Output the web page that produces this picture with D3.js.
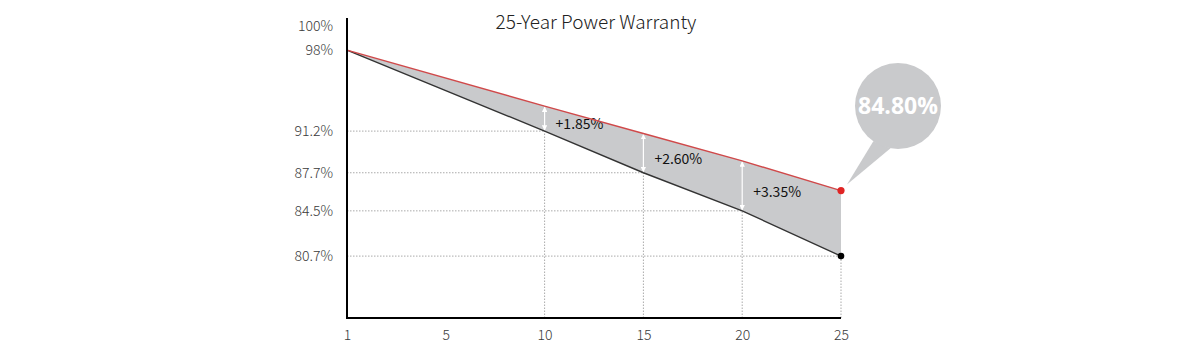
<!DOCTYPE html>
<html><head><meta charset="utf-8">
<script src="https://cdn.jsdelivr.net/npm/d3@7"></script>
<style>
html,body{margin:0;padding:0;background:#fff;}
svg{display:block;font-family:"Noto Sans CJK SC","Noto Sans",sans-serif;}
</style></head>
<body>
<svg id="chart" width="1200" height="353"></svg>
<script>
// ---- data ----
const title = "25-Year Power Warranty";
const xTicks = [1, 5, 10, 15, 20, 25];
const years = [1, 10, 15, 20, 25];
const standardValues = [98, 91.2, 87.7, 84.5, 80.7];   // black line
const warrantyValues = [98, 93.3, 91.0, 88.7, 86.2];   // red line (as drawn)
const yTickValues = [100, 98, 91.2, 87.7, 84.5, 80.7];
const yTickLabels = ["100%", "98%", "91.2%", "87.7%", "84.5%", "80.7%"];
const gapYears = [10, 15, 20];
const gapLabels = ["+1.85%", "+2.60%", "+3.35%"];
const finalLabel = "84.80%";

// ---- layout ----
const svg = d3.select("#chart");
const x = d3.scalePoint().domain(xTicks).range([347, 841]);
const y = d3.scaleLinear().domain([75.5, 100.7]).range([318, 18]);

const black = years.map((yr, i) => ({yr, v: standardValues[i]}));
const red = years.map((yr, i) => ({yr, v: warrantyValues[i], b: standardValues[i]}));

// grid lines (dotted) to the black line points
const gridPts = black.filter(d => d.yr !== 1);
const grid = svg.append("g").attr("stroke", "#aaa").attr("stroke-width", 1).attr("stroke-dasharray", "1.5,1.5");
grid.selectAll(".h").data(gridPts).join("line")
  .attr("x1", x(1)).attr("x2", d => x(d.yr)).attr("y1", d => y(d.v)).attr("y2", d => y(d.v));
grid.selectAll(".v").data(gridPts).join("line")
  .attr("x1", d => x(d.yr)).attr("x2", d => x(d.yr)).attr("y1", y.range()[0]).attr("y2", d => y(d.v));

// area between lines
svg.append("path").datum(red)
  .attr("fill", "#c9cacc")
  .attr("d", d3.area().x(d => x(d.yr)).y0(d => y(d.b)).y1(d => y(d.v)));

// white double arrows
const defs = svg.append("defs");
defs.append("marker").attr("id", "ah").attr("viewBox", "0 0 10 10").attr("refX", 9).attr("refY", 5)
  .attr("markerWidth", 4.5).attr("markerHeight", 4.5).attr("orient", "auto-start-reverse")
  .append("path").attr("d", "M0,0L10,5L0,10Z").attr("fill", "#fff");
const gaps = gapYears.map((yr, i) => ({yr, lab: gapLabels[i], top: warrantyValues[years.indexOf(yr)], bot: standardValues[years.indexOf(yr)]}));
svg.selectAll(".arr").data(gaps).join("line")
  .attr("x1", d => x(d.yr)).attr("x2", d => x(d.yr))
  .attr("y1", d => y(d.bot) - 1).attr("y2", d => y(d.top) + 1)
  .attr("stroke", "#fff").attr("stroke-width", 1.2)
  .attr("marker-start", "url(#ah)").attr("marker-end", "url(#ah)");
svg.selectAll(".gl").data(gaps).join("text")
  .attr("x", d => x(d.yr) + 11)
  .attr("y", d => (y(d.top) + y(d.bot)) / 2 + 6)
  .attr("dy", "0.35em")
  .attr("font-size", 14).attr("fill", "#111")
  .text(d => d.lab);

// lines
svg.append("path").datum(black).attr("fill", "none").attr("stroke", "#333").attr("stroke-width", 1.4)
  .attr("d", d3.line().x(d => x(d.yr)).y(d => y(d.v)));
svg.append("path").datum(red).attr("fill", "none").attr("stroke", "#d0494a").attr("stroke-width", 1.4)
  .attr("d", d3.line().x(d => x(d.yr)).y(d => y(d.v)));

// end dots
const last = years.length - 1;
svg.append("circle").attr("cx", x(years[last])).attr("cy", y(standardValues[last])).attr("r", 3.3).attr("fill", "#000");
svg.append("circle").attr("cx", x(years[last])).attr("cy", y(warrantyValues[last])).attr("r", 3.6).attr("fill", "#e02424");

// axes
svg.append("line").attr("x1", x(1)).attr("x2", x(1)).attr("y1", y.range()[1]).attr("y2", y.range()[0] + 1)
  .attr("stroke", "#000").attr("stroke-width", 2);
svg.append("line").attr("x1", x(1) - 1).attr("x2", x(25)).attr("y1", y.range()[0]).attr("y2", y.range()[0])
  .attr("stroke", "#000").attr("stroke-width", 2);

const yAxis = svg.append("g").attr("transform", `translate(${x(1)},0)`)
  .call(d3.axisLeft(y).tickValues(yTickValues).tickSize(0).tickPadding(14)
    .tickFormat((d, i) => yTickLabels[i]));
yAxis.select(".domain").remove();
yAxis.selectAll("text").attr("font-size", 14).attr("fill", "#3a3a3a").attr("font-family", "'Noto Sans CJK SC','Noto Sans',sans-serif").attr("font-weight", 300);

const xAxis = svg.append("g").attr("transform", `translate(0,${y.range()[0]})`)
  .call(d3.axisBottom(x).tickSize(0).tickPadding(12));
xAxis.select(".domain").remove();
xAxis.selectAll("text").attr("font-size", 14).attr("fill", "#3a3a3a").attr("font-family", "'Noto Sans CJK SC','Noto Sans',sans-serif").attr("font-weight", 300);

// title
svg.append("text").attr("x", 596).attr("y", 29).attr("text-anchor", "middle")
  .attr("font-size", 19).attr("fill", "#222").attr("font-weight", 300).text(title);

// speech bubble
const bx = 898, by = 106, br = 43;
const tipX = x(25) + 6, tipY = y(warrantyValues[last]) - 6;
const a1 = 125 * Math.PI / 180, a2 = 100 * Math.PI / 180;
const bubble = svg.append("g").attr("fill", "#c9cacc");
bubble.append("path").attr("d",
  `M${bx + br * Math.cos(a1)},${by + br * Math.sin(a1)} L${tipX},${tipY} L${bx + br * Math.cos(a2)},${by + br * Math.sin(a2)} Z`);
bubble.append("circle").attr("cx", bx).attr("cy", by).attr("r", br);
svg.append("text").attr("x", bx).attr("y", by).attr("dy", "0.35em").attr("text-anchor", "middle")
  .attr("font-size", 23).attr("font-weight", "bold").attr("fill", "#fff")
  .attr("font-family", "'Open Sans','Noto Sans',sans-serif").text(finalLabel);
</script>
</body></html>
